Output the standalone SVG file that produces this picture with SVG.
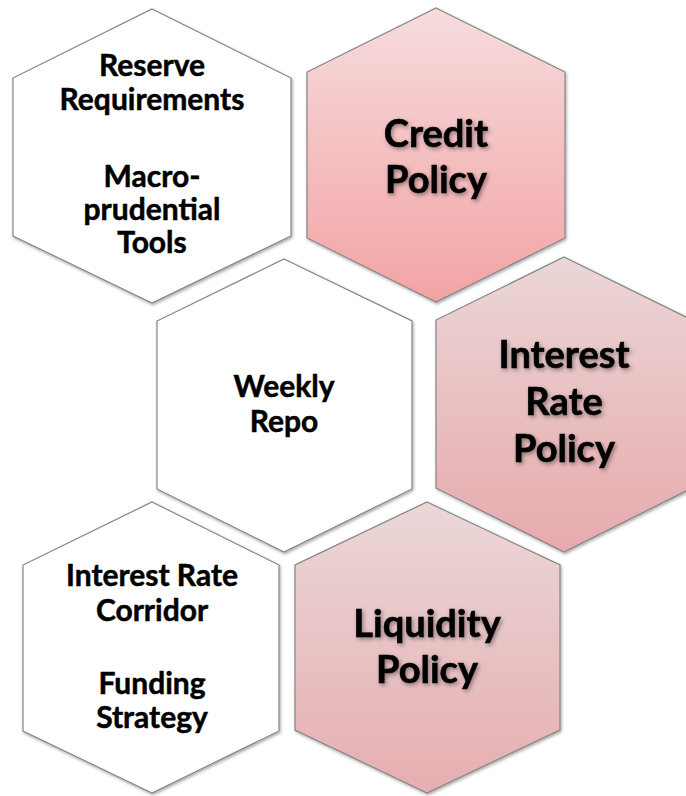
<svg xmlns="http://www.w3.org/2000/svg" width="686" height="796" viewBox="0 0 686 796">
  <defs>
    <linearGradient id="gCredit" x1="0" y1="0" x2="0" y2="1">
      <stop offset="0" stop-color="#F6DCDD"/>
      <stop offset="1" stop-color="#F3A3A4"/>
    </linearGradient>
    <linearGradient id="gInterest" x1="0" y1="0" x2="0" y2="1">
      <stop offset="0" stop-color="#EBD6D7"/>
      <stop offset="1" stop-color="#E7AAAC"/>
    </linearGradient>
    <linearGradient id="gLiquidity" x1="0" y1="0" x2="0" y2="1">
      <stop offset="0" stop-color="#EBD7D8"/>
      <stop offset="1" stop-color="#E6AEB0"/>
    </linearGradient>
    <filter id="hexShadow" x="-10%" y="-10%" width="120%" height="120%">
      <feDropShadow dx="1" dy="1.5" stdDeviation="1.5" flood-color="#000" flood-opacity="0.35"/>
    </filter>
    <filter id="txtShadow" x="-10%" y="-20%" width="120%" height="140%">
      <feDropShadow dx="1.5" dy="2" stdDeviation="2" flood-color="#000" flood-opacity="0.4"/>
    </filter>
  </defs>
  <style>
    .hex { stroke: #858585; stroke-width: 1.2; filter: url(#hexShadow); }
    .white { fill: #FFFFFF; }
    .sm { font-family: Lato, "Liberation Sans", sans-serif; font-weight: bold; font-size: 30px; fill: #000; stroke: #000; stroke-width: 0.5; text-anchor: middle; }
    .lg { font-family: Lato, "Liberation Sans", sans-serif; font-weight: bold; font-size: 38px; fill: #000; stroke: #000; stroke-width: 0.6; text-anchor: middle; filter: url(#txtShadow); }
  </style>
  <rect width="686" height="796" fill="#FFFFFF"/>

  <g id="reserve">
    <polygon class="hex white" points="152,9 291,78 291,236 152,303 13,236 13,78"/>
    <text class="sm" x="152" y="76">Reserve</text>
    <text class="sm" x="152" y="110">Requirements</text>
    <text class="sm" x="152" y="187">Macro-</text>
    <text class="sm" x="152" y="220">prudential</text>
    <text class="sm" x="152" y="253">Tools</text>
  </g>

  <g id="credit">
    <polygon class="hex" fill="url(#gCredit)" points="436,8 565,72 565,238 436,302 307,238 307,72"/>
    <text class="lg" x="436" y="147">Credit</text>
    <text class="lg" x="436" y="193">Policy</text>
  </g>

  <g id="weekly">
    <polygon class="hex white" points="284,259 412,321 412,489 284,552 157,489 157,321"/>
    <text class="sm" x="284" y="397">Weekly</text>
    <text class="sm" x="284" y="432">Repo</text>
  </g>

  <g id="interest">
    <polygon class="hex" fill="url(#gInterest)" points="564,257 692,320 692,488 564,552 436,488 436,320"/>
    <text class="lg" x="564" y="368">Interest</text>
    <text class="lg" x="564" y="415">Rate</text>
    <text class="lg" x="564" y="462">Policy</text>
  </g>

  <g id="corridor">
    <polygon class="hex white" points="152,502 279,565 279,731 152,793 23,731 23,565"/>
    <text class="sm" x="152" y="586">Interest Rate</text>
    <text class="sm" x="152" y="621">Corridor</text>
    <text class="sm" x="152" y="694">Funding</text>
    <text class="sm" x="152" y="728">Strategy</text>
  </g>

  <g id="liquidity">
    <polygon class="hex" fill="url(#gLiquidity)" points="427,502 560,565 560,730 427,793 295,730 295,565"/>
    <text class="lg" x="427" y="637">Liquidity</text>
    <text class="lg" x="427" y="683">Policy</text>
  </g>

  <g id="connectors"/>
</svg>
